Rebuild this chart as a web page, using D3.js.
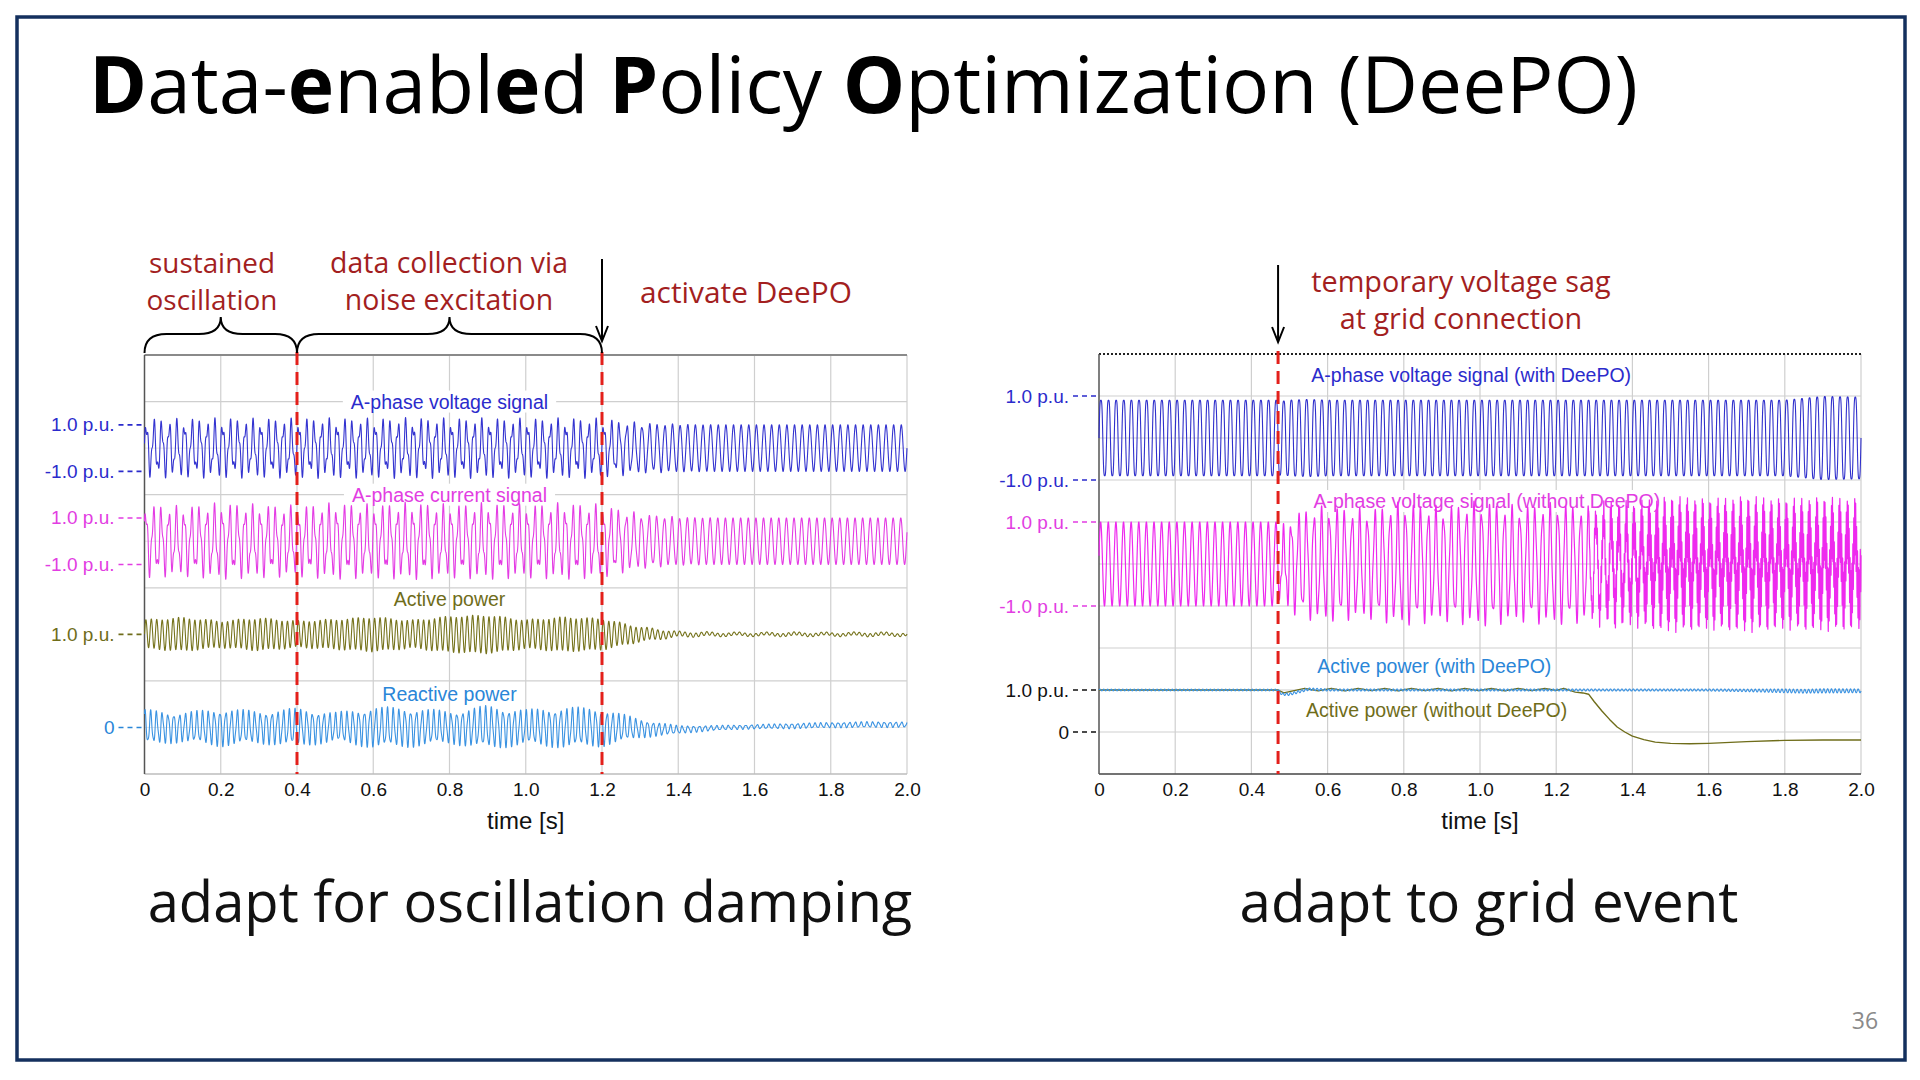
<!DOCTYPE html>
<html>
<head>
<meta charset="utf-8">
<script src="https://cdn.jsdelivr.net/npm/d3@7"></script>
<style>
  body { margin: 0; background: #fff; }
  svg { display: block; }
</style>
</head>
<body>
<div id="chart"></div>
<script>
// ---- data ----
const tickValues = [0, 0.2, 0.4, 0.6, 0.8, 1.0, 1.2, 1.4, 1.6, 1.8, 2.0];
const tickLabels = ["0", "0.2", "0.4", "0.6", "0.8", "1.0", "1.2", "1.4", "1.6", "1.8", "2.0"];

const gridFreq = 50;     // fundamental [Hz]
const oscFreq = 70;      // sustained power oscillation [Hz]
const harmFreq = 120;    // interharmonic seen in V / I
const rippleFreq = 100;  // power ripple
const highFreq = 410;    // fast oscillation after the sag (no DeePO)

// left plot: envelopes (p.u.) sampled at these times
const leftT = [0, 0.1, 0.2, 0.3, 0.4, 0.5, 0.6, 0.7, 0.8, 0.9, 1.0, 1.1, 1.2, 1.3, 1.4, 1.5, 1.6, 1.7, 1.8, 1.9, 2.0];
const leftVoltFund = [0.95, 0.95, 0.95, 0.95, 0.95, 0.95, 0.95, 0.95, 0.95, 0.95, 0.95, 0.95, 0.95, 0.98, 1.0, 1.0, 1.0, 1.0, 1.0, 1.0, 1.0];
const leftVoltHarm = [0.35, 0.33, 0.36, 0.34, 0.35, 0.36, 0.34, 0.37, 0.35, 0.36, 0.34, 0.36, 0.35, 0.12, 0.03, 0, 0, 0, 0, 0, 0];
const leftCurrFund = [1.2, 1.15, 1.25, 1.2, 1.15, 1.25, 1.2, 1.25, 1.2, 1.25, 1.2, 1.25, 1.2, 1.05, 1.0, 1.0, 1.0, 1.0, 1.0, 1.0, 1.0];
const leftCurrHarm = [0.4, 0.38, 0.42, 0.4, 0.4, 0.42, 0.4, 0.44, 0.4, 0.42, 0.4, 0.42, 0.4, 0.15, 0.04, 0, 0, 0, 0, 0, 0];
const leftActiveOsc = [0.6, 0.7, 0.55, 0.68, 0.55, 0.62, 0.72, 0.58, 0.75, 0.8, 0.6, 0.72, 0.65, 0.3, 0.1, 0.07, 0.06, 0.07, 0.06, 0.07, 0.06];
const leftReactOsc = [0.65, 0.55, 0.7, 0.6, 0.7, 0.55, 0.75, 0.72, 0.6, 0.8, 0.65, 0.75, 0.7, 0.35, 0.15, 0.09, 0.08, 0.1, 0.1, 0.11, 0.1];
const leftReactBias = [0, 0, 0, 0, 0, 0, 0, 0, 0, 0, 0, 0, 0, -0.05, -0.1, -0.02, 0.03, 0.06, 0.1, 0.12, 0.12];

// right plot: envelopes (p.u.) at these times
const rightT = [0, 0.2, 0.46, 0.47, 0.48, 0.5, 0.55, 0.6, 0.7, 0.8, 0.9, 1.0, 1.1, 1.2, 1.28, 1.3, 1.35, 1.4, 1.45, 1.5, 1.6, 1.7, 1.8, 1.85, 1.9, 2.0];
const withFund = [1, 1, 1, 1, 0.97, 1.0, 1.02, 1.0, 1.0, 1.0, 1.0, 1.0, 1.0, 1.0, 1.0, 1.0, 1.0, 1.0, 1.0, 1.0, 1.0, 1.0, 1.0, 1.05, 1.1, 1.08];
const withoutFund = [1, 1, 1, 1, 0.6, 0.95, 1.15, 1.2, 1.12, 1.28, 1.18, 1.3, 1.2, 1.28, 1.2, 1.1, 1.0, 0.95, 0.85, 0.88, 0.85, 0.88, 0.85, 0.86, 0.85, 0.86];
const withoutHarm = [0, 0, 0, 0, 0.3, 0.25, 0.2, 0.2, 0.2, 0.22, 0.2, 0.22, 0.2, 0.2, 0.2, 0.15, 0.1, 0.08, 0.05, 0.05, 0.05, 0.05, 0.05, 0.05, 0.05, 0.05];
const withoutHigh = [0, 0, 0, 0, 0, 0, 0, 0, 0, 0, 0, 0, 0, 0, 0, 0.25, 0.5, 0.5, 0.68, 0.72, 0.68, 0.72, 0.68, 0.7, 0.72, 0.68];
const powerWithBias = [1, 1, 1, 1, 0.9, 0.9, 1.02, 1.0, 1.0, 1.0, 1.0, 1.0, 1.0, 1.0, 1.0, 1.0, 1.0, 1.0, 1.0, 1.0, 1.0, 0.99, 0.98, 0.97, 0.98, 0.98];
const powerWithRipple = [0.02, 0.02, 0.02, 0.02, 0.03, 0.03, 0.03, 0.025, 0.025, 0.025, 0.025, 0.025, 0.025, 0.025, 0.025, 0.025, 0.025, 0.025, 0.025, 0.025, 0.025, 0.03, 0.045, 0.045, 0.05, 0.045];

// active power without DeePO (slow trace)
const pNoT = [0, 0.47, 0.485, 0.5, 0.54, 0.575, 0.61, 0.645, 0.68, 0.715, 0.75, 0.785, 0.82, 0.855, 0.89, 0.925, 0.96, 0.995, 1.03, 1.065, 1.10, 1.135, 1.17, 1.2, 1.22, 1.25, 1.27, 1.285, 1.30, 1.32, 1.34, 1.36, 1.38, 1.40, 1.43, 1.46, 1.50, 1.55, 1.60, 1.70, 1.80, 1.90, 2.0];
const pNoV = [1.0, 1.0, 0.93, 0.96, 1.04, 0.98, 1.04, 0.98, 1.04, 0.985, 1.04, 0.98, 1.04, 0.985, 1.04, 0.98, 1.04, 0.985, 1.035, 0.98, 1.04, 0.985, 1.035, 0.99, 1.04, 0.95, 0.93, 0.90, 0.72, 0.5, 0.3, 0.12, 0.0, -0.1, -0.18, -0.24, -0.27, -0.28, -0.27, -0.23, -0.2, -0.19, -0.19];

const leftAxisLabels = ["1.0 p.u.", "-1.0 p.u.", "1.0 p.u.", "-1.0 p.u.", "1.0 p.u.", "0"];
const leftAxisValues = [1, -1, 1, -1, 1, 0];
const rightAxisLabels = ["1.0 p.u.", "-1.0 p.u.", "1.0 p.u.", "-1.0 p.u.", "1.0 p.u.", "0"];
const rightAxisValues = [1, -1, 1, -1, 1, 0];

const width = 1920, height = 1080;
const svg = d3.select('#chart').append('svg')
    .attr('width', width).attr('height', height);

svg.append('rect').attr('width', width).attr('height', height).attr('fill', '#fff');
svg.append('rect')
    .attr('x', 17).attr('y', 17).attr('width', 1888).attr('height', 1043)
    .attr('fill', 'none').attr('stroke', '#14305e').attr('stroke-width', 3.5);

const headFont = "'Open Sans', 'Noto Sans', sans-serif";
const plotFont = "'Liberation Sans', Arial, sans-serif";
const darkRed = '#a31f1f';

function fit(sel, w) {
  const fs = parseFloat(sel.attr('font-size'));
  const bw = sel.node().getBBox().width;
  sel.attr('font-size', fs * w / bw);
  return fs * w / bw;
}

// ---- title ----
const title = svg.append('text')
    .attr('x', 89).attr('y', 113)
    .attr('font-family', headFont).attr('font-size', 70).attr('fill', '#000');
[["D", 700], ["ata-", 400], ["e", 700], ["nabl", 400], ["e", 700], ["d ", 400],
 ["P", 700], ["olicy ", 400], ["O", 700], ["ptimization (DeePO)", 400]]
  .forEach(([s, w]) => title.append('tspan').attr('font-weight', w).text(s));
fit(title, 1549);

const interp = (ts, vs) => d3.scaleLinear().domain(ts).range(vs).clamp(true);
const dt = 0.0001;
const samples = d3.range(0, 2 + dt / 2, dt);

function waveValue(spec, t) {
  let v = spec.bias ? spec.bias(t) : 0;
  spec.comps.forEach(c => { v += c.amp(t) * Math.sin(2 * Math.PI * c.f * t + c.ph); });
  return v;
}

function drawPanel(P) {
  const g = svg.append('g');
  const x = d3.scaleLinear().domain([0, 2]).range([P.x0, P.x1]);
  const row = d3.scaleLinear().domain([0, P.rows]).range([P.y1, P.y0]);

  // grid
  g.selectAll('.vg').data(tickValues.slice(1)).enter().append('line')
      .attr('x1', d => x(d)).attr('x2', d => x(d)).attr('y1', P.y0).attr('y2', P.y1)
      .attr('stroke', '#cfcfcf').attr('stroke-width', 1.2);
  g.selectAll('.hg').data(P.gridRows).enter().append('line')
      .attr('x1', P.x0).attr('x2', P.x1).attr('y1', d => row(d)).attr('y2', d => row(d))
      .attr('stroke', '#cfcfcf').attr('stroke-width', 1.2);
  g.selectAll('.mg').data(P.midRows).enter().append('line')
      .attr('x1', P.x0).attr('x2', P.x1).attr('y1', d => row(d)).attr('y2', d => row(d))
      .attr('stroke', '#dedede').attr('stroke-width', 0.8);

  // frame
  g.append('line').attr('x1', P.x0).attr('x2', P.x1).attr('y1', P.y0).attr('y2', P.y0)
      .attr('stroke', P.topColor).attr('stroke-width', 2).attr('stroke-dasharray', P.topDash);
  g.append('line').attr('x1', P.x0).attr('x2', P.x1).attr('y1', P.y1).attr('y2', P.y1)
      .attr('stroke', P.bottomColor).attr('stroke-width', 1.5);
  g.append('line').attr('x1', P.x0).attr('x2', P.x0).attr('y1', P.y0).attr('y2', P.y1)
      .attr('stroke', '#555').attr('stroke-width', 1.5);

  // series labels (behind traces)
  P.labels.forEach(l => {
    const t = g.append('text').attr('x', x(l.t)).attr('y', row(l.row))
        .attr('text-anchor', 'middle').attr('dominant-baseline', 'central')
        .attr('font-family', plotFont).attr('font-size', 19.5).attr('fill', l.color).text(l.text);
    if (l.bg) {
      const b = t.node().getBBox();
      g.insert('rect', () => t.node()).attr('x', b.x - 8).attr('y', b.y).attr('width', b.width + 16)
          .attr('height', b.height).attr('fill', '#fff');
    }
  });

  // traces
  P.series.forEach(s => {
    const yv = v => row(s.center + s.scale * v);
    let pts;
    if (s.points) pts = s.points.t.map((t, i) => [x(t), yv(s.points.v[i])]);
    else pts = samples.map(t => [x(t), yv(waveValue(s, t))]);
    g.append('path').attr('d', d3.line()(pts))
        .attr('fill', 'none').attr('stroke', s.color).attr('stroke-width', s.width || 1.1)
        .attr('stroke-linejoin', 'round');
  });

  // left-hand labels: value text + short dashed leader
  P.axisLabels.forEach((txt, i) => {
    const s = P.series[P.axisSeries[i]];
    const y = row(s.center + s.scale * P.axisValues[i]);
    g.append('text').attr('x', P.x0 - 30).attr('y', y)
        .attr('text-anchor', 'end').attr('dominant-baseline', 'central')
        .attr('font-family', plotFont).attr('font-size', 19).attr('fill', P.axisColors[i]).text(txt);
    g.append('line').attr('x1', P.x0 - 26).attr('x2', P.x0).attr('y1', y).attr('y2', y)
        .attr('stroke', P.axisColors[i]).attr('stroke-width', 1.6).attr('stroke-dasharray', '5,4');
  });

  // x axis
  const ax = g.append('g').attr('transform', `translate(0,${P.y1})`)
      .call(d3.axisBottom(x).tickValues(tickValues).tickFormat((d, i) => tickLabels[i]).tickSize(0).tickPadding(9));
  ax.select('.domain').remove();
  ax.selectAll('text').attr('font-family', plotFont).attr('font-size', 19).attr('fill', '#111');
  g.append('text').attr('x', (P.x0 + P.x1) / 2).attr('y', 829).attr('text-anchor', 'middle')
      .attr('font-family', plotFont).attr('font-size', 24).attr('fill', '#111').text('time [s]');

  // event markers
  P.events.forEach(e => {
    g.append('line').attr('x1', x(e)).attr('x2', x(e)).attr('y1', P.y0 - 3).attr('y2', P.y1)
        .attr('stroke', '#e3201b').attr('stroke-width', 3).attr('stroke-dasharray', '13,7');
  });
  return x;
}

const xL = drawPanel({
  x0: 144.5, x1: 907, y0: 355, y1: 774, rows: 9,
  gridRows: [2, 4, 6, 8], midRows: [7, 5, 1],
  topColor: '#8a8a8a', topDash: null, bottomColor: '#bdbdbd',
  events: [0.4, 1.2],
  labels: [
    {text: 'A-phase voltage signal', t: 0.8, row: 8, color: '#2b2bcc', bg: true},
    {text: 'A-phase current signal', t: 0.8, row: 6, color: '#e23de2', bg: true},
    {text: 'Active power', t: 0.8, row: 3.75, color: '#6f6d1a'},
    {text: 'Reactive power', t: 0.8, row: 1.72, color: '#2a86d8'}
  ],
  series: [
    {center: 7, scale: 0.5, color: '#3434d0',
     comps: [{f: gridFreq, amp: interp(leftT, leftVoltFund), ph: 0},
             {f: harmFreq, amp: interp(leftT, leftVoltHarm), ph: 0.6}]},
    {center: 5, scale: 0.5, color: '#e43ce4',
     comps: [{f: gridFreq, amp: interp(leftT, leftCurrFund), ph: 0.4},
             {f: harmFreq, amp: interp(leftT, leftCurrHarm), ph: 1.3}]},
    {center: 2.5, scale: 0.5, color: '#76731c', bias: () => 1,
     comps: [{f: oscFreq, amp: interp(leftT, leftActiveOsc), ph: 0},
             {f: 13, amp: interp(leftT, leftActiveOsc.map(() => 0.04)), ph: 0.3}]},
    {center: 1, scale: 0.5, color: '#3b93e2', bias: interp(leftT, leftReactBias),
     comps: [{f: oscFreq - 4, amp: interp(leftT, leftReactOsc), ph: 1.1},
             {f: 140, amp: interp(leftT, leftReactOsc.map(v => v * 0.2)), ph: 0}]}
  ],
  axisLabels: leftAxisLabels, axisValues: leftAxisValues, axisSeries: [0, 0, 1, 1, 2, 3],
  axisColors: ['#2b2bcc', '#2b2bcc', '#e23de2', '#e23de2', '#6f6d1a', '#2a86d8']
});

const xR = drawPanel({
  x0: 1099, x1: 1861, y0: 354, y1: 774, rows: 10,
  gridRows: [1, 2, 3, 4, 5, 6, 7, 8, 9], midRows: [],
  topColor: '#222', topDash: '2,2', bottomColor: '#444',
  events: [0.47],
  labels: [
    {text: 'A-phase voltage signal (with DeePO)', t: 0.977, row: 9.5, color: '#2b2bcc'},
    {text: 'A-phase voltage signal (without DeePO)', t: 1.018, row: 6.5, color: '#e23de2', bg: true},
    {text: 'Active power (with DeePO)', t: 0.88, row: 2.57, color: '#2a86d8'},
    {text: 'Active power (without DeePO)', t: 0.886, row: 1.52, color: '#6f6d1a'}
  ],
  series: [
    {center: 8, scale: 1, color: '#3030cc',
     comps: [{f: gridFreq, amp: interp(rightT, withFund), ph: 0},
             {f: 3 * gridFreq, amp: interp(rightT, withFund.map(v => v * 0.1)), ph: 0}]},
    {center: 5, scale: 1, color: '#ee2aee', width: 1.2,
     comps: [{f: gridFreq, amp: interp(rightT, withoutFund), ph: 0.2},
             {f: harmFreq, amp: interp(rightT, withoutHarm), ph: 0.9},
             {f: highFreq, amp: interp(rightT, withoutHigh), ph: 0}]},
    {center: 1, scale: 1, color: '#6f6d1a', width: 1.4, points: {t: pNoT, v: pNoV}},
    {center: 1, scale: 1, color: '#3b93e2', bias: interp(rightT, powerWithBias),
     comps: [{f: rippleFreq, amp: interp(rightT, powerWithRipple), ph: 0}]}
  ],
  axisLabels: rightAxisLabels, axisValues: rightAxisValues, axisSeries: [0, 0, 1, 1, 2, 2],
  axisColors: ['#2b2bcc', '#2b2bcc', '#e23de2', '#e23de2', '#111', '#111']
});

// ---- annotations ----
function annot(lines, cx, ys, w) {
  const ts = lines.map((s, i) => svg.append('text').attr('x', cx).attr('y', ys[i])
      .attr('text-anchor', 'middle').attr('dominant-baseline', 'central')
      .attr('font-family', headFont).attr('font-size', 27).attr('fill', darkRed).text(s));
  const fs = fit(ts[0], w);
  ts.forEach(t => t.attr('font-size', fs));
}
annot(['sustained', 'oscillation'], 212, [262, 299], 126);
annot(['data collection via', 'noise excitation'], 449, [262, 299], 238);
annot(['activate DeePO'], 746, [291], 212);
annot(['temporary voltage sag', 'at grid connection'], 1461, [280, 317], 300);

function brace(x1, x2, yTip) {
  const xc = (x1 + x2) / 2, ym = yTip - 19, yt = yTip - 36, r = 22;
  return `M${x1},${yTip} Q${x1},${ym} ${x1 + r},${ym} L${xc - r},${ym} Q${xc},${ym} ${xc},${yt}` +
         ` Q${xc},${ym} ${xc + r},${ym} L${x2 - r},${ym} Q${x2},${ym} ${x2},${yTip}`;
}
svg.append('path').attr('d', brace(xL(0), xL(0.4), 353))
    .attr('fill', 'none').attr('stroke', '#000').attr('stroke-width', 2);
svg.append('path').attr('d', brace(xL(0.4), xL(1.2), 353))
    .attr('fill', 'none').attr('stroke', '#000').attr('stroke-width', 2);

function arrow(x, y1, y2) {
  svg.append('line').attr('x1', x).attr('x2', x).attr('y1', y1).attr('y2', y2)
      .attr('stroke', '#000').attr('stroke-width', 2);
  svg.append('path').attr('d', `M${x - 6},${y2 - 15} L${x},${y2} L${x + 6},${y2 - 15}`)
      .attr('fill', 'none').attr('stroke', '#000').attr('stroke-width', 2);
}
arrow(xL(1.2), 259, 341);
arrow(xR(0.47), 265, 342);

// ---- captions ----
const c1 = svg.append('text').attr('x', 530).attr('y', 922).attr('text-anchor', 'middle')
    .attr('font-family', headFont).attr('font-size', 54).attr('fill', '#111')
    .text('adapt for oscillation damping');
fit(c1, 765);
const c2 = svg.append('text').attr('x', 1489).attr('y', 922).attr('text-anchor', 'middle')
    .attr('font-family', headFont).attr('font-size', 54).attr('fill', '#111')
    .text('adapt to grid event');
fit(c2, 499);

svg.append('text').attr('x', 1865).attr('y', 1029).attr('text-anchor', 'middle')
    .attr('font-family', headFont).attr('font-size', 23).attr('fill', '#8a8a8a').text('36');
</script>
</body>
</html>
